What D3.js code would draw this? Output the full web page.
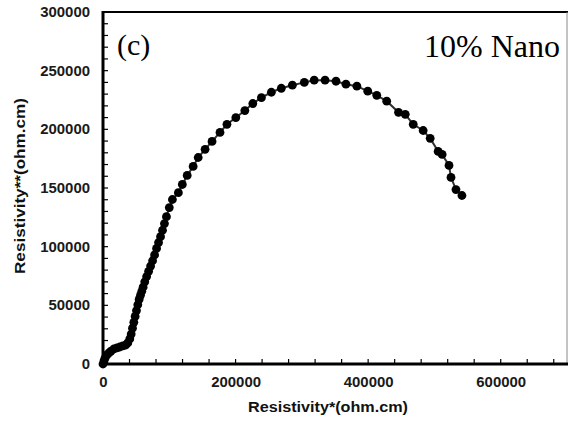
<!DOCTYPE html>
<html>
<head>
<meta charset="utf-8">
<script src="https://cdn.jsdelivr.net/npm/d3@7"></script>
<style>
  html, body { margin: 0; padding: 0; background: #fff; }
  svg { display: block; }
</style>
</head>
<body>
<script>
// Data: Resistivity* (x) vs Resistivity** (y), ohm.cm
const rhoReal = [0, 1500, 3000, 6000, 9000, 12000, 16500, 21000, 25400, 30000, 34400, 37400, 40400,
  42500, 44500, 46500, 48500, 50500, 52500, 54500, 56500, 58500, 60500, 63000, 65800, 68800, 71800,
  74800, 77800, 80800, 83800, 86800, 89800, 92700, 95700, 100000, 104700, 113700, 119700, 127000,
  136000, 143600, 154000, 164500, 176500, 187000, 200400, 214000, 226000, 239000, 254000, 269000,
  285700, 303700, 318600, 335000, 351500, 366500, 383000, 399400, 413000, 428000, 445800, 456000,
  468000, 483000, 493600, 505600, 511600, 522000, 525000, 532500, 541500];
const rhoImag = [0, 2600, 5000, 7700, 9400, 11000, 12800, 13700, 14500, 15400, 16200, 18000, 21400,
  25500, 30500, 35500, 40500, 45500, 50500, 55000, 58500, 62000, 65500, 70000, 74500, 79000, 83500,
  88000, 93000, 98500, 103500, 108500, 114000, 119700, 125600, 133300, 140200, 146000, 153000, 160700,
  168400, 176000, 183000, 189700, 197400, 204300, 210000, 216000, 222000, 227000, 231600, 235000,
  237600, 240000, 241900, 241900, 241000, 238500, 236800, 232500, 229000, 224000, 214500, 212800,
  204300, 199000, 192300, 181200, 178600, 169200, 159000, 148700, 143600];

const xTicks = [0, 200000, 400000, 600000];
const yTicks = [0, 50000, 100000, 150000, 200000, 250000, 300000];
const xLabel = "Resistivity*(ohm.cm)";
const yLabel = "Resistivity**(ohm.cm)";
const panelLabel = "(c)";
const sampleLabel = "10% Nano";

const W = 571, H = 423;
const mL = 103, mR = 567, mT = 12, mB = 364;

const svg = d3.select("body").append("svg").attr("width", W).attr("height", H);

const x = d3.scaleLinear().domain([0, 700000]).range([mL, mR]);
const y = d3.scaleLinear().domain([0, 300000]).range([mB, mT]);

// frame: top and right
svg.append("line").attr("x1", mL).attr("x2", mR + 1).attr("y1", mT).attr("y2", mT)
  .attr("stroke", "#000").attr("stroke-width", 2.2);
svg.append("line").attr("x1", mR).attr("x2", mR).attr("y1", mT).attr("y2", mB)
  .attr("stroke", "#888").attr("stroke-width", 1);

// minor ticks
const xMinor = d3.range(0, 700001, 40000);
const yMinor = d3.range(0, 300001, 10000);
svg.append("g").selectAll("line").data(xMinor).join("line")
  .attr("x1", d => x(d)).attr("x2", d => x(d)).attr("y1", mB).attr("y2", mB - 5)
  .attr("stroke", "#000").attr("stroke-width", 1.2);
svg.append("g").selectAll("line").data(yMinor).join("line")
  .attr("x1", mL).attr("x2", mL + 5).attr("y1", d => y(d)).attr("y2", d => y(d))
  .attr("stroke", "#000").attr("stroke-width", 1.2);

// axes with labels
const fontTick = "bold 14px 'Liberation Sans', Arial, sans-serif";
const stretch = sel => sel.each(function() {
  const n = this.textContent.length;
  d3.select(this).attr("textLength", n * 8.3).attr("lengthAdjust", "spacingAndGlyphs");
});
const xAxis = d3.axisBottom(x).tickValues(xTicks).tickFormat(d3.format("d")).tickSize(0).tickPadding(13);
const gx = svg.append("g").attr("transform", `translate(0,${mB})`).call(xAxis);
gx.select(".domain").remove();
gx.selectAll("text").style("font", fontTick).attr("fill", "#1a1a1a").call(stretch);

const yAxis = d3.axisLeft(y).tickValues(yTicks).tickFormat(d3.format("d")).tickSize(0).tickPadding(13);
const gy = svg.append("g").attr("transform", `translate(${mL},0)`).call(yAxis);
gy.select(".domain").remove();
gy.selectAll("text").style("font", fontTick).attr("fill", "#1a1a1a").call(stretch);

// axis lines
svg.append("line").attr("x1", mL - 1).attr("x2", mR + 1).attr("y1", mB).attr("y2", mB)
  .attr("stroke", "#000").attr("stroke-width", 3);
svg.append("line").attr("x1", mL).attr("x2", mL).attr("y1", mT - 1).attr("y2", mB + 1)
  .attr("stroke", "#000").attr("stroke-width", 3);

// data
const pts = rhoReal.map((v, i) => [v, rhoImag[i]]);
svg.append("path").datum(pts)
  .attr("d", d3.line().x(d => x(d[0])).y(d => y(d[1])))
  .attr("fill", "none").attr("stroke", "#333").attr("stroke-width", 2);
svg.append("g").selectAll("circle").data(pts).join("circle")
  .attr("cx", d => x(d[0])).attr("cy", d => y(d[1])).attr("r", 4.4).attr("fill", "#000");

// axis titles
svg.append("text").attr("x", 328).attr("y", 412).attr("text-anchor", "middle")
  .attr("textLength", 160).attr("lengthAdjust", "spacingAndGlyphs")
  .style("font", "bold 14px 'Liberation Sans', Arial, sans-serif").attr("fill", "#111").text(xLabel);
svg.append("text").attr("transform", "translate(25,186) rotate(-90)").attr("text-anchor", "middle")
  .attr("textLength", 176).attr("lengthAdjust", "spacingAndGlyphs")
  .style("font", "bold 14px 'Liberation Sans', Arial, sans-serif").attr("fill", "#111").text(yLabel);

// annotations
svg.append("text").attr("x", 117).attr("y", 55)
  .style("font", "30px 'Liberation Serif', 'Times New Roman', serif").attr("fill", "#000").text(panelLabel);
svg.append("text").attr("x", 560).attr("y", 57).attr("text-anchor", "end")
  .style("font", "32px 'Liberation Serif', 'Times New Roman', serif").attr("fill", "#000").text(sampleLabel);
</script>
</body>
</html>
